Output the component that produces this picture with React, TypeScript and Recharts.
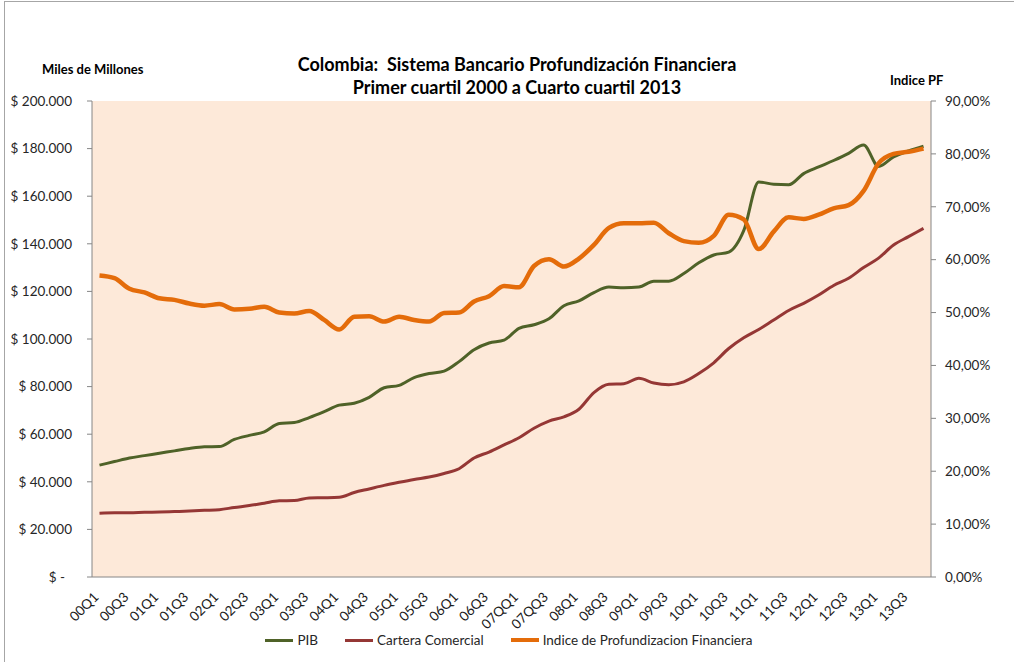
import React from "react";
import {
  CartesianGrid,
  Legend,
  Line,
  LineChart,
  XAxis,
  YAxis,
} from "recharts";

// quarters 2000Q1 .. 2013Q4 (labels as they appear in the source sheet)
const quarters = [
  "00Q1", "00Q2", "00Q3", "00Q4",
  "01Q1", "01Q2", "01Q3", "01Q4",
  "02Q1", "02Q2", "02Q3", "02Q4",
  "03Q1", "03Q2", "03Q3", "03Q4",
  "04Q1", "04Q2", "04Q3", "04Q4",
  "05Q1", "05Q2", "05Q3", "05Q4",
  "06Q1", "06Q2", "06Q3", "06Q4",
  "07QQ1", "07Q2", "07QQ3", "07Q4",
  "08Q1", "08Q2", "08Q3", "08Q4",
  "09Q1", "09Q2", "09Q3", "09Q4",
  "10Q1", "10Q2", "10Q3", "10Q4",
  "11Q1", "11Q2", "11Q3", "11Q4",
  "12Q1", "12Q2", "12Q3", "12Q4",
  "13Q1", "13Q2", "13Q3", "13Q4",
];

// miles de millones
const pib = [
  47000, 48500, 50000, 51000, 52000, 53000, 54000, 54700,
  54800, 57800, 59500, 61000, 64500, 64900, 67000, 69500,
  72200, 73000, 75500, 79500, 80500, 83800, 85500, 86500,
  90500, 95500, 98300, 99500, 104500, 106000, 108500, 114000,
  116000, 119500, 121800, 121500, 121800, 124300, 124300, 127500,
  132000, 135300, 136500, 145500, 166000, 165000, 164800, 169500,
  172300, 175000, 178000, 181500, 172500, 176500, 179000, 181000,
];

const cartera = [
  26800, 27000, 27000, 27200, 27300, 27500, 27700, 28000,
  28300, 29200, 30000, 31000, 32000, 32100, 33200, 33300,
  33500, 35500, 37000, 38500, 39800, 41000, 42000, 43500,
  45500, 50000, 52500, 55500, 58500, 62500, 65500, 67300,
  70500, 77500, 81000, 81200, 83500, 81500, 80800, 82000,
  85500, 90000, 96000, 100500, 104000, 108000, 112000, 115000,
  118500, 122500, 125500, 130000, 134000, 139500, 143000, 146500,
];

// indice de profundizacion financiera, %
const indice = [
  57.0, 56.5, 54.5, 53.8, 52.7, 52.4, 51.7, 51.3,
  51.6, 50.6, 50.7, 51.1, 50.0, 49.8, 50.3, 48.6,
  46.8, 49.2, 49.3, 48.3, 49.2, 48.6, 48.3, 49.9,
  50.0, 52.1, 53.1, 55.0, 54.8, 58.8, 60.1, 58.7,
  60.2, 62.8, 66.0, 66.9, 66.9, 67.0, 65.0, 63.5,
  63.2, 64.5, 68.5, 67.6, 62.0, 65.3, 68.0, 67.7,
  68.5, 69.7, 70.3, 73.0, 78.2, 80.0, 80.4, 81.0,
];

const leftTicks = [0, 20000, 40000, 60000, 80000, 100000, 120000, 140000, 160000, 180000, 200000];
const rightTicks = [0, 10, 20, 30, 40, 50, 60, 70, 80, 90];

const series = [
  { key: "pib", name: "PIB", color: "#4F6228", width: 3, axis: "left" },
  { key: "cartera", name: "Cartera Comercial", color: "#953735", width: 3, axis: "left" },
  { key: "indice", name: "Indice de Profundizacion Financiera", color: "#E46C0A", width: 4.5, axis: "right" },
];

const FONT = "Lato, 'Open Sans', sans-serif";
const AXIS = "#868686";

const data = quarters.map((q, i) => ({
  idx: i,
  q,
  pib: pib[i],
  cartera: cartera[i],
  indice: indice[i],
}));

const labelTicks = quarters.map((_, i) => i).filter((i) => i % 2 === 0);
const boundaryTicks = [...quarters.map((_, i) => i - 0.5), quarters.length - 0.5];
const xDomain = [-0.5, quarters.length - 0.5];

function fmtPesos(v: number) {
  if (v === 0) return "$ -";
  return "$ " + String(v).replace(/\B(?=(\d{3})+(?!\d))/g, ".");
}

function fmtPct(v: number) {
  return v.toFixed(2).replace(".", ",") + "%";
}

function LeftTick({ x, y, payload }: any) {
  const zero = payload.value === 0;
  return (
    <text
      x={x - (zero ? 20 : 13)}
      y={y}
      dy="0.35em"
      textAnchor="end"
      fontFamily={FONT}
      fontSize={13.5}
      fill="#262626"
    >
      {fmtPesos(payload.value)}
    </text>
  );
}

function RightTick({ x, y, payload }: any) {
  return (
    <text
      x={x + 7}
      y={y}
      dy="0.35em"
      textAnchor="start"
      fontFamily={FONT}
      fontSize={13.5}
      fill="#262626"
    >
      {fmtPct(payload.value)}
    </text>
  );
}

function QuarterTick({ x, y, payload }: any) {
  const tx = x;
  const ty = y + 20;
  return (
    <text
      x={tx}
      y={ty}
      transform={`rotate(-45, ${tx}, ${ty})`}
      textAnchor="end"
      fontFamily={FONT}
      fontSize={13.5}
      fill="#1a1a1a"
    >
      {quarters[payload.value]}
    </text>
  );
}

function ChartLegend() {
  return (
    <div
      style={{
        display: "flex",
        justifyContent: "center",
        alignItems: "center",
        gap: 27,
        height: 22,
        fontFamily: FONT,
        fontSize: 13.5,
        color: "#262626",
        paddingLeft: 4,
      }}
    >
      {series.map((s) => (
        <div key={s.key} style={{ display: "flex", alignItems: "center" }}>
          <span
            style={{
              display: "inline-block",
              width: 28,
              height: s.key === "indice" ? 4 : 3,
              background: s.color,
              marginRight: 4,
            }}
          />
          <span>{s.name}</span>
        </div>
      ))}
    </div>
  );
}

export default function App() {
  return (
    <div
      style={{
        position: "absolute",
        left: 0,
        top: 0,
        width: 1014,
        height: 662,
        overflow: "hidden",
        background: "#fff",
      }}
    >
      <div
        style={{
          position: "absolute",
          left: 4,
          top: 1,
          width: 1040,
          height: 700,
          border: "1px solid #a6a6a6",
        }}
      />

      <div
        style={{
          position: "absolute",
          left: 0,
          top: 53,
          width: 1034,
          textAlign: "center",
          fontFamily: FONT,
          fontWeight: 700,
          fontSize: 18,
          lineHeight: "23px",
          color: "#000",
        }}
      >
        <div>Colombia:&nbsp; Sistema Bancario Profundización Financiera</div>
        <div>Primer cuartil 2000 a Cuarto cuartil 2013</div>
      </div>

      <div
        style={{
          position: "absolute",
          left: 42,
          top: 61,
          fontFamily: FONT,
          fontWeight: 700,
          fontSize: 13,
          color: "#000",
        }}
      >
        Miles de Millones
      </div>

      <div
        style={{
          position: "absolute",
          left: 890,
          top: 72,
          fontFamily: FONT,
          fontWeight: 700,
          fontSize: 13,
          color: "#000",
        }}
      >
        Indice PF
      </div>

      <LineChart
        width={1014}
        height={662}
        data={data}
        margin={{ top: 101, right: 0, bottom: 0, left: 0 }}
        style={{ position: "absolute", left: 0, top: 0 }}
      >
        <CartesianGrid
          fill="#FDE9D9"
          horizontal={false}
          vertical={false}
          xAxisId="marks"
          yAxisId="left"
        />

        <XAxis
          xAxisId="marks"
          dataKey="idx"
          type="number"
          domain={xDomain}
          ticks={boundaryTicks}
          tick={false}
          tickSize={5}
          height={1}
          stroke={AXIS}
          allowDataOverflow
        />

        <XAxis
          xAxisId="q"
          dataKey="idx"
          type="number"
          domain={xDomain}
          ticks={labelTicks}
          interval={0}
          tick={<QuarterTick />}
          tickLine={false}
          axisLine={false}
          tickSize={0}
          tickMargin={0}
          height={62}
          allowDataOverflow
        />

        <YAxis
          yAxisId="left"
          domain={[0, 200000]}
          ticks={leftTicks}
          interval={0}
          width={92}
          tickSize={5}
          stroke={AXIS}
          tick={<LeftTick />}
        />

        <YAxis
          yAxisId="right"
          orientation="right"
          domain={[0, 90]}
          ticks={rightTicks}
          interval={0}
          width={83}
          tickSize={5}
          stroke={AXIS}
          tick={<RightTick />}
        />

        <Legend
          verticalAlign="bottom"
          height={22}
          content={<ChartLegend />}
          wrapperStyle={{ bottom: 11 }}
        />

        {series.map((s) => (
          <Line
            key={s.key}
            xAxisId="q"
            yAxisId={s.axis}
            type="monotone"
            dataKey={s.key}
            name={s.name}
            stroke={s.color}
            strokeWidth={s.width}
            dot={false}
            isAnimationActive={false}
          />
        ))}
      </LineChart>
    </div>
  );
}
